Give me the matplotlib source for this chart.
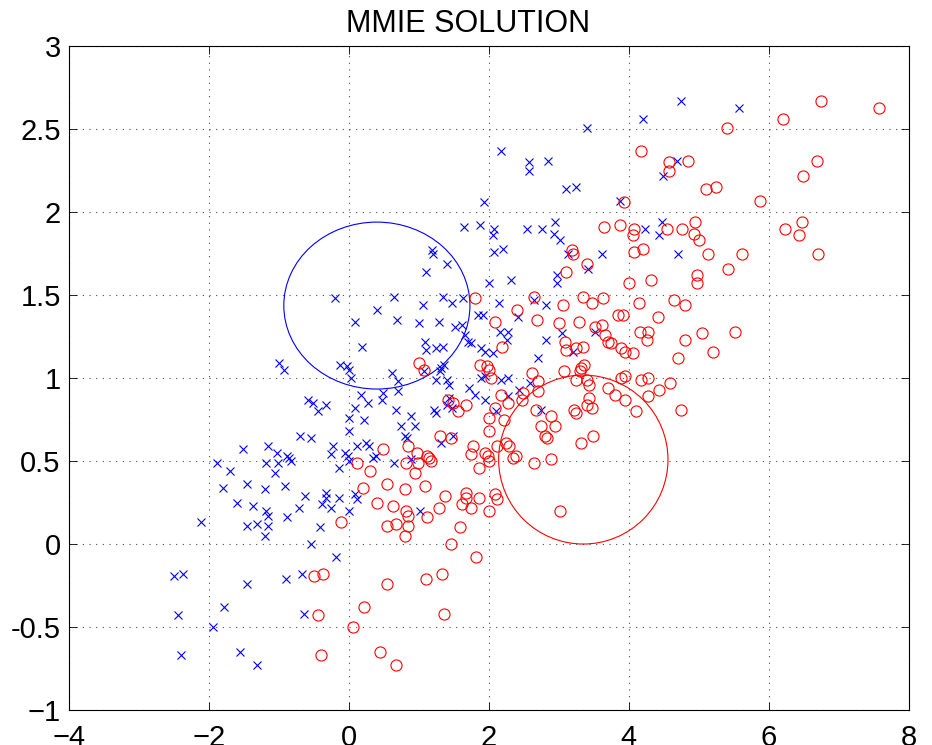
import matplotlib
matplotlib.use("Agg")
import matplotlib.pyplot as plt
from matplotlib.patches import Ellipse

plt.rcParams['font.family'] = ['Liberation Sans', 'DejaVu Sans']

# class 1 (blue crosses)
blue_x = [3.40, 4.20, 2.17, 2.57, 2.57, 2.85, 3.10, 3.25, 3.87, 1.93,
          1.64, 1.87, 2.08, 2.06, 2.54, 2.76, 2.94, 2.93, 3.01, 4.23,
          1.19, 1.20, 1.40, 1.10, 2.08, 2.20, 3.13, 3.62, 3.42, 2.98,
          2.97, 2.00, 2.32,
          4.74, 5.58, 4.69, 4.49, 4.47, 4.43, 4.70,
          -0.20, 0.64, 0.40, 0.09, 0.69, 0.19, -1.00, -0.93, -0.12, -0.03,
          0.00, 0.03, 0.62, 0.70, 0.17, 0.49, 0.48, 0.27, 0.70, -0.58,
          -0.51, -0.32, -0.44, 0.09, 0.00, 0.22, 0.67, 0.75, 0.00, -0.70,
          -0.54, -0.23, -0.25, -0.06, -0.01, 0.11, 0.24, 0.29, 0.35, 0.39,
          -0.14, 0.00, 0.65, -1.51, -1.15, -1.03, -0.89, -0.85, -0.82, -1.19,
          -1.01, -1.06, -1.88, -1.70, -1.45, -1.80, -1.20, -0.91,
          -0.63, -0.32, -0.32, -0.14, -0.39, -0.26, 0.09, 0.12, 0.00, -1.60,
          -1.37, -1.18, -1.15, -0.89, -0.71, -2.11, -1.45, -1.32, -1.15, -1.20,
          -0.41, -0.54, -0.19, -2.50, -2.37, -1.46, -0.90, -0.67, -1.79, -2.44,
          -0.64, -1.94, -2.40, -1.56, -1.32,
          1.35, 1.63, 1.48, 1.06, 2.14, 2.64, 2.81, 2.42, 1.84, 1.92,
          1.00, 1.29, 1.51, 1.62, 1.66, 2.16, 2.27, 2.26, 1.70, 1.74,
          1.09, 1.10, 1.24, 1.35, 1.89, 1.94, 2.06, 2.81, 3.05, 3.20,
          3.52, 2.70, 1.32, 1.36, 1.30, 1.07, 1.24, 1.40, 1.43, 1.89,
          1.94, 2.18, 2.28, 1.71, 1.80, 1.95, 2.28, 2.43, 2.59, 1.43,
          1.40, 1.47, 1.21, 1.24, 2.10, 2.75, 0.89, 0.95, 0.80, 0.83,
          1.31, 1.49, 0.89, 1.01]
blue_y = [2.51, 2.56, 2.37, 2.30, 2.25, 2.31, 2.14, 2.15, 2.07, 2.06,
          1.91, 1.92, 1.90, 1.86, 1.90, 1.90, 1.94, 1.87, 1.83, 1.90,
          1.77, 1.75, 1.69, 1.64, 1.76, 1.78, 1.75, 1.75, 1.66, 1.62,
          1.57, 1.57, 1.59,
          2.67, 2.63, 2.31, 2.22, 1.94, 1.86, 1.75,
          1.48, 1.49, 1.41, 1.34, 1.35, 1.19, 1.09, 1.05, 1.08, 1.07,
          1.05, 1.00, 1.03, 0.98, 0.90, 0.91, 0.87, 0.85, 0.92, 0.87,
          0.85, 0.84, 0.80, 0.82, 0.76, 0.75, 0.81, 0.71, 0.68, 0.65,
          0.64, 0.59, 0.54, 0.55, 0.53, 0.59, 0.61, 0.59, 0.52, 0.53,
          0.46, 0.50, 0.49, 0.57, 0.59, 0.55, 0.53, 0.52, 0.50, 0.49,
          0.49, 0.43, 0.49, 0.44, 0.36, 0.34, 0.33, 0.35,
          0.29, 0.31, 0.28, 0.28, 0.24, 0.22, 0.30, 0.27, 0.20, 0.25,
          0.23, 0.20, 0.17, 0.16, 0.22, 0.13, 0.11, 0.12, 0.11, 0.05,
          0.10, 0.00, -0.08, -0.19, -0.18, -0.24, -0.21, -0.18, -0.38, -0.43,
          -0.42, -0.50, -0.67, -0.65, -0.73,
          1.49, 1.48, 1.45, 1.44, 1.45, 1.47, 1.44, 1.37, 1.38, 1.38,
          1.33, 1.34, 1.31, 1.32, 1.26, 1.28, 1.28, 1.23, 1.22, 1.21,
          1.22, 1.17, 1.18, 1.19, 1.18, 1.16, 1.15, 1.23, 1.27, 1.16,
          1.28, 1.12, 1.06, 1.08, 1.04, 1.04, 0.99, 0.99, 0.96, 1.00,
          1.01, 0.99, 1.00, 0.94, 0.90, 0.87, 0.89, 0.93, 0.97, 0.88,
          0.84, 0.82, 0.81, 0.79, 0.80, 0.81, 0.77, 0.71, 0.65, 0.64,
          0.61, 0.65, 0.51, 0.20]

# class 2 (red circles)
red_x = [5.40, 6.20, 4.17, 4.57, 4.57, 4.85, 5.10, 5.25, 5.87, 3.93,
         3.64, 3.87, 4.08, 4.06, 4.54, 4.76, 4.94, 4.93, 5.01, 6.23,
         3.19, 3.20, 3.40, 3.10, 4.08, 4.20, 5.13, 5.62, 5.42, 4.98,
         4.97, 4.00, 4.32,
         6.74, 7.58, 6.69, 6.49, 6.47, 6.43, 6.70,
         1.80, 2.64, 2.40, 2.09, 2.69, 2.19, 1.00, 1.07, 1.88, 1.97,
         2.00, 2.03, 2.62, 2.70, 2.17, 2.49, 2.48, 2.27, 2.70, 1.42,
         1.49, 1.68, 1.56, 2.09, 2.00, 2.22, 2.67, 2.75, 2.00, 1.30,
         1.46, 1.77, 1.75, 1.94, 1.99, 2.11, 2.24, 2.29, 2.35, 2.39,
         1.86, 2.00, 2.65, 0.49, 0.85, 0.97, 1.11, 1.15, 1.18, 0.81,
         0.99, 0.94, 0.12, 0.30, 0.55, 0.20, 0.80, 1.09,
         1.37, 1.68, 1.68, 1.86, 1.61, 1.74, 2.09, 2.12, 2.00, 0.40,
         0.63, 0.82, 0.85, 1.11, 1.29, -0.11, 0.55, 0.68, 0.85, 0.80,
         1.59, 1.46, 1.81, -0.50, -0.37, 0.54, 1.10, 1.33, 0.21, -0.44,
         1.36, 0.06, -0.40, 0.44, 0.68,
         3.35, 3.63, 3.48, 3.06, 4.14, 4.64, 4.81, 4.42, 3.84, 3.92,
         3.00, 3.29, 3.51, 3.62, 3.66, 4.16, 4.27, 4.26, 3.70, 3.74,
         3.09, 3.10, 3.24, 3.35, 3.89, 3.94, 4.06, 4.81, 5.05, 5.20,
         5.52, 4.70, 3.32, 3.36, 3.30, 3.07, 3.24, 3.40, 3.43, 3.89,
         3.94, 4.18, 4.28, 3.71, 3.80, 3.95, 4.28, 4.43, 4.59, 3.43,
         3.40, 3.47, 3.21, 3.24, 4.10, 4.75, 2.89, 2.95, 2.80, 2.83,
         3.31, 3.49, 2.89, 3.01]
red_y = [2.51, 2.56, 2.37, 2.30, 2.25, 2.31, 2.14, 2.15, 2.07, 2.06,
         1.91, 1.92, 1.90, 1.86, 1.90, 1.90, 1.94, 1.87, 1.83, 1.90,
         1.77, 1.75, 1.69, 1.64, 1.76, 1.78, 1.75, 1.75, 1.66, 1.62,
         1.57, 1.57, 1.59,
         2.67, 2.63, 2.31, 2.22, 1.94, 1.86, 1.75,
         1.48, 1.49, 1.41, 1.34, 1.35, 1.19, 1.09, 1.05, 1.08, 1.07,
         1.05, 1.00, 1.03, 0.98, 0.90, 0.91, 0.87, 0.85, 0.92, 0.87,
         0.85, 0.84, 0.80, 0.82, 0.76, 0.75, 0.81, 0.71, 0.68, 0.65,
         0.64, 0.59, 0.54, 0.55, 0.53, 0.59, 0.61, 0.59, 0.52, 0.53,
         0.46, 0.50, 0.49, 0.57, 0.59, 0.55, 0.53, 0.52, 0.50, 0.49,
         0.49, 0.43, 0.49, 0.44, 0.36, 0.34, 0.33, 0.35,
         0.29, 0.31, 0.28, 0.28, 0.24, 0.22, 0.30, 0.27, 0.20, 0.25,
         0.23, 0.20, 0.17, 0.16, 0.22, 0.13, 0.11, 0.12, 0.11, 0.05,
         0.10, 0.00, -0.08, -0.19, -0.18, -0.24, -0.21, -0.18, -0.38, -0.43,
         -0.42, -0.50, -0.67, -0.65, -0.73,
         1.49, 1.48, 1.45, 1.44, 1.45, 1.47, 1.44, 1.37, 1.38, 1.38,
         1.33, 1.34, 1.31, 1.32, 1.26, 1.28, 1.28, 1.23, 1.22, 1.21,
         1.22, 1.17, 1.18, 1.19, 1.18, 1.16, 1.15, 1.23, 1.27, 1.16,
         1.28, 1.12, 1.06, 1.08, 1.04, 1.04, 0.99, 0.99, 0.96, 1.00,
         1.01, 0.99, 1.00, 0.94, 0.90, 0.87, 0.89, 0.93, 0.97, 0.88,
         0.84, 0.82, 0.81, 0.79, 0.80, 0.81, 0.77, 0.71, 0.65, 0.64,
         0.61, 0.65, 0.51, 0.20]

# fitted gaussians: centre, width, height
blue_ellipse = (0.40, 1.437, 2.66, 1.006)
red_ellipse = (3.35, 0.509, 2.42, 1.018)

x_ticks = [-4, -2, 0, 2, 4, 6, 8]
y_ticks = [-1, -0.5, 0, 0.5, 1, 1.5, 2, 2.5, 3]
y_labels = ['\u22121', '-0.5', '0', '0.5', '1', '1.5', '2', '2.5', '3']

fig = plt.figure(figsize=(9.32, 7.45), dpi=100)
ax = fig.add_axes([0.074, 0.047, 0.901, 0.891])

ax.plot(blue_x, blue_y, 'x', color=(0, 0, 1), ms=6, mew=0.8)
ax.plot(red_x, red_y, 'o', color=(1, 0, 0), ms=8, mew=0.8, mfc='none')

for (cx, cy, w, h), col in [(blue_ellipse, (0, 0, 1)), (red_ellipse, (1, 0, 0))]:
    ax.add_patch(Ellipse((cx, cy), w, h, fill=False, edgecolor=col, lw=0.8))

ax.set_xlim(-4, 8)
ax.set_ylim(-1, 3)
ax.set_xticks(x_ticks)
ax.set_yticks(y_ticks)
ax.set_yticklabels(y_labels)
ax.grid(True, color='0.3', linestyle=(0, (1, 5)), linewidth=0.8)
ax.tick_params(direction='in', length=6, width=0.6, top=True, right=True,
               labelsize=21)
ax.tick_params(axis='x', pad=10)
ax.tick_params(axis='y', pad=6)
for sp in ax.spines.values():
    sp.set_linewidth(0.8)

ax.set_title('MMIE SOLUTION', fontsize=22, pad=10, x=0.475)

fig.savefig('out.png', dpi=100)
